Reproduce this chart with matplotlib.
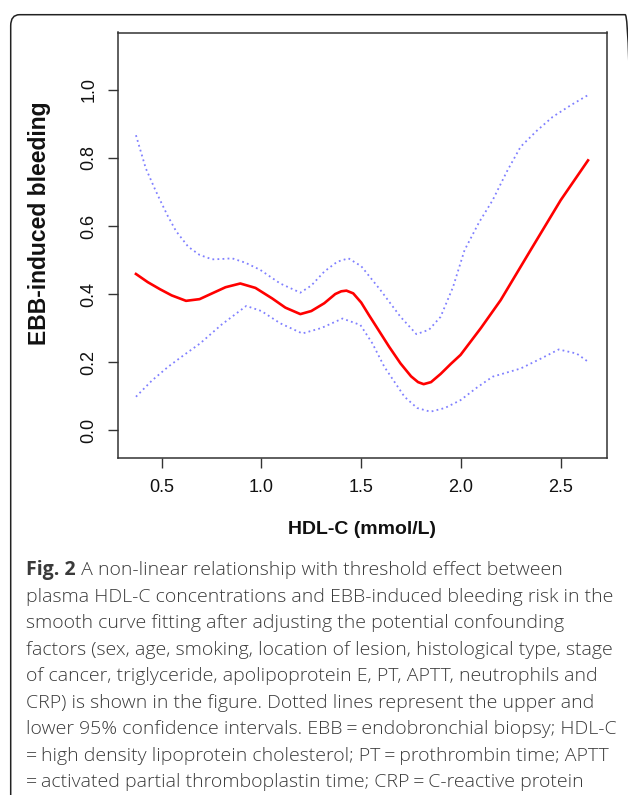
import numpy as np
import matplotlib
matplotlib.use('Agg')
import matplotlib.pyplot as plt
from matplotlib.patches import FancyBboxPatch

# curva ajustada
hdl = [0.371, 0.43, 0.492, 0.55, 0.622, 0.69, 0.753, 0.82, 0.894, 0.97,
       1.054, 1.12, 1.195, 1.25, 1.315, 1.37, 1.40, 1.426, 1.46, 1.50,
       1.54, 1.576, 1.64, 1.697, 1.75, 1.785, 1.813, 1.85, 1.898, 1.95,
       1.998, 2.1, 2.199, 2.349, 2.5, 2.637]
risco = [0.459, 0.435, 0.414, 0.396, 0.380, 0.385, 0.402, 0.420, 0.431, 0.418,
         0.387, 0.360, 0.341, 0.350, 0.373, 0.400, 0.408, 0.410, 0.402, 0.375,
         0.337, 0.304, 0.245, 0.196, 0.158, 0.141, 0.135, 0.141, 0.165, 0.195,
         0.221, 0.300, 0.382, 0.529, 0.676, 0.793]

# limite superior do IC 95%
hdl_sup = [0.371, 0.42, 0.465, 0.492, 0.53, 0.572, 0.633, 0.69, 0.753, 0.80,
           0.853, 0.92, 0.994, 1.094, 1.195, 1.25, 1.315, 1.38, 1.436, 1.50,
           1.596, 1.697, 1.777, 1.84, 1.898, 1.96, 2.018, 2.09, 2.159, 2.23,
           2.299, 2.38, 2.46, 2.55, 2.637]
ic_sup = [0.867, 0.77, 0.71, 0.676, 0.63, 0.585, 0.539, 0.515, 0.502, 0.503,
          0.505, 0.492, 0.471, 0.431, 0.404, 0.425, 0.466, 0.495, 0.505, 0.482,
          0.412, 0.333, 0.282, 0.295, 0.333, 0.42, 0.529, 0.61, 0.676, 0.76,
          0.833, 0.88, 0.921, 0.955, 0.985]

# limite inferior do IC 95%
hdl_inf = [0.371, 0.45, 0.532, 0.61, 0.693, 0.80, 0.924, 1.00, 1.094, 1.205,
           1.30, 1.406, 1.496, 1.556, 1.616, 1.717, 1.78, 1.847, 1.92, 1.998,
           2.08, 2.159, 2.299, 2.40, 2.49, 2.58, 2.637]
ic_inf = [0.098, 0.145, 0.186, 0.220, 0.255, 0.31, 0.365, 0.35, 0.314, 0.284,
          0.300, 0.328, 0.309, 0.255, 0.186, 0.098, 0.065, 0.054, 0.065, 0.088,
          0.125, 0.157, 0.181, 0.210, 0.237, 0.225, 0.201]

xticks = [0.5, 1.0, 1.5, 2.0, 2.5]
yticks = [0.0, 0.2, 0.4, 0.6, 0.8, 1.0]

legenda = [
    "plasma HDL-C concentrations and EBB-induced bleeding risk in the",
    "smooth curve fitting after adjusting the potential confounding",
    "factors (sex, age, smoking, location of lesion, histological type, stage",
    "of cancer, triglyceride, apolipoprotein E, PT, APTT, neutrophils and",
    "CRP) is shown in the figure. Dotted lines represent the upper and",
    "lower 95% confidence intervals. EBB\u2009=\u2009endobronchial biopsy; HDL-C",
    "=\u2009high density lipoprotein cholesterol; PT\u2009=\u2009prothrombin time; APTT",
    "=\u2009activated partial thromboplastin time; CRP\u2009=\u2009C-reactive protein",
]

W, H = 628, 795
fig = plt.figure(figsize=(W / 100, H / 100), dpi=100)

# moldura arredondada externa
caixa = FancyBboxPatch((10.7 / W, -0.05), (634 - 10.7) / W, 1.05 - 14.7 / H,
                       boxstyle="round,pad=0,rounding_size=0.014",
                       transform=fig.transFigure, fill=False,
                       edgecolor='#222222', linewidth=1.1, zorder=0)
fig.patches.append(caixa)

ax = fig.add_axes([118.3 / W, (H - 458.3) / H, (606.7 - 118.3) / W, (458.3 - 32.5) / H])
ax.plot(hdl_sup, ic_sup, color='#8080ff', linestyle=(0, (1, 1.8)), linewidth=1.3)
ax.plot(hdl_inf, ic_inf, color='#8080ff', linestyle=(0, (1, 1.8)), linewidth=1.3)
ax.plot(hdl, risco, color='#ff0000', linewidth=1.9)

ax.set_xlim(0.2825, 2.7306)
ax.set_ylim(-0.083, 1.169)
ax.set_xticks(xticks)
ax.set_xticklabels([f'{v:.1f}' for v in xticks])
ax.set_yticks(yticks)
ax.set_yticklabels([f'{v:.1f}' for v in yticks], rotation=90, va='center')
ax.tick_params(direction='out', length=7, width=1.0, colors='#333333',
               labelsize=13, labelcolor='#111111', pad=8)
for s in ax.spines.values():
    s.set_color('#333333')
    s.set_linewidth(1.1)

fonte = 'Liberation Sans'
for lab in ax.get_xticklabels() + ax.get_yticklabels():
    lab.set_fontfamily(fonte)

fig.text(362.5 / W, 1 - 530 / H, 'HDL-C (mmol/L)', ha='center', va='center',
         fontsize=14, fontweight='bold', family=fonte, color='#111111')
fig.text(40 / W, 1 - 223 / H, 'EBB-induced bleeding', ha='center', va='center',
         rotation=90, fontsize=16.5, fontweight='bold', family=fonte, color='#111111')

# legenda da figura
fam = ['Open Sans', 'DejaVu Sans']
cor_txt = '#3a3a3a'
tam = 14.0
x0 = 26 / W
base0 = 575
passo = 26.56
t1 = fig.text(x0, 1 - base0 / H, 'Fig. 2', fontsize=tam, fontweight='bold',
              family=fam, color=cor_txt, va='baseline')
r = fig.canvas.get_renderer()
bb = t1.get_window_extent(renderer=r)
fig.text(bb.x1 / W, 1 - base0 / H,
         ' A non-linear relationship with threshold effect between',
         fontsize=tam, fontweight='light', family=fam, color=cor_txt, va='baseline')
for i, linha in enumerate(legenda):
    fig.text(x0, 1 - (base0 + (i + 1) * passo) / H, linha, fontsize=tam,
             fontweight='light', family=fam, color=cor_txt, va='baseline')

fig.savefig('out.png', dpi=100)
